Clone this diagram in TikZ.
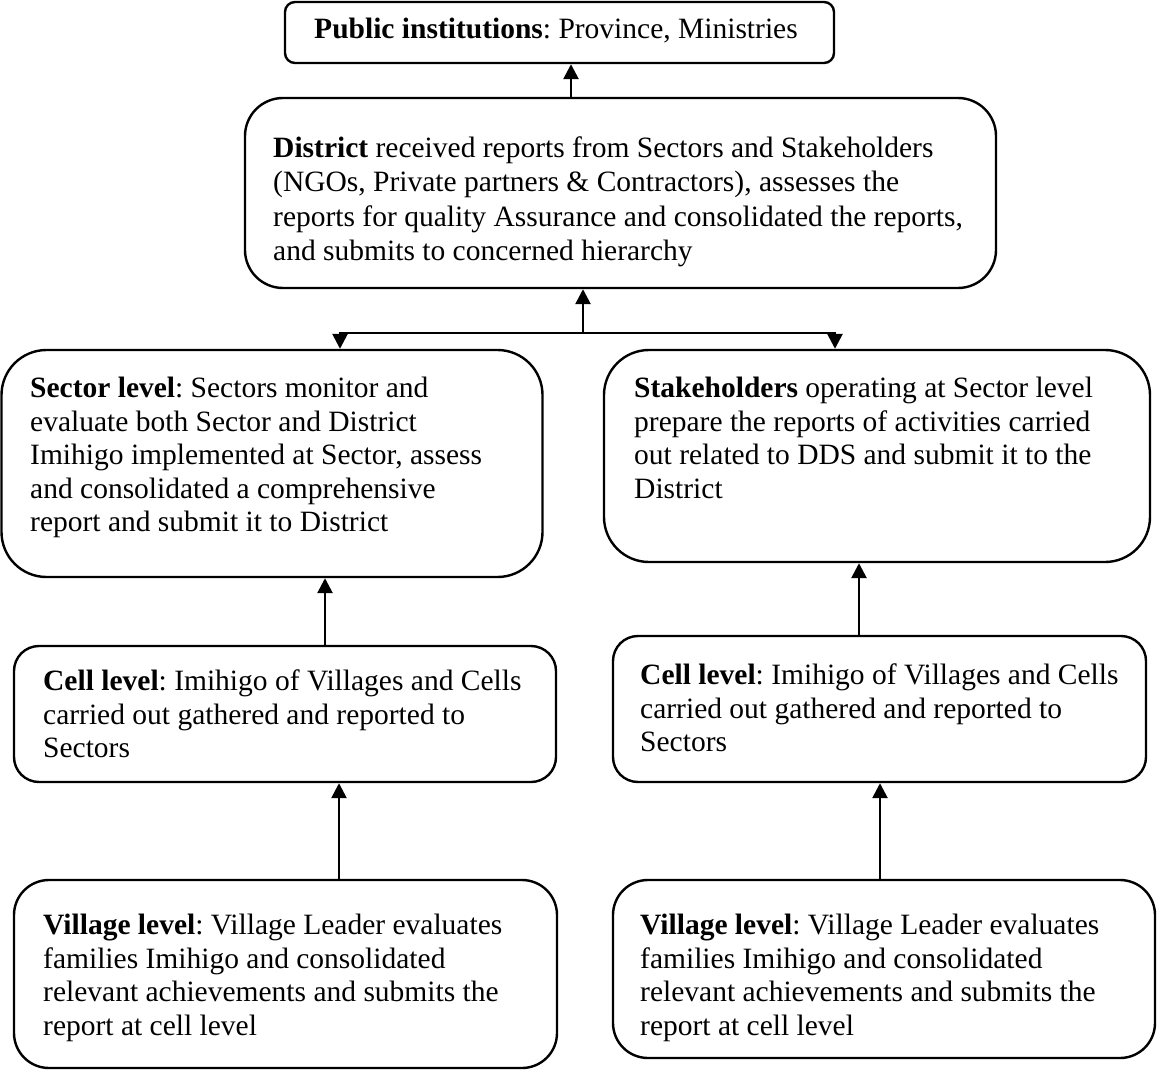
\documentclass[tikz,border=0pt]{standalone}
\usepackage{fontspec}
\setmainfont{Liberation Serif}
\usetikzlibrary{arrows.meta}
\frenchspacing
\begin{document}
\begin{tikzpicture}[x=1pt,y=-1pt,
  box/.style={draw=black,line width=2.4pt,inner sep=0pt},
  txt/.style={anchor=north west,inner sep=0pt,align=left,font=\fontsize{29.5}{33.5}\selectfont},
  arr/.style={line width=2.6pt,-{Triangle[width=15pt,length=15pt]}}]
\useasboundingbox (0,0) rectangle (1157,1070);
% boxes
\node[box,rounded corners=10pt,minimum width=549pt,minimum height=61pt] (public) at (559.5,32.5) {};
\node[box,rounded corners=38pt,minimum width=751pt,minimum height=190pt] (district) at (620.5,193) {};
\node[box,rounded corners=45pt,minimum width=541pt,minimum height=227pt] (sector) at (272,463.5) {};
\node[box,rounded corners=45pt,minimum width=546pt,minimum height=212pt] (stake) at (877,456) {};
\node[box,rounded corners=25pt,minimum width=542pt,minimum height=136pt] (celll) at (285,714) {};
\node[box,rounded corners=25pt,minimum width=533pt,minimum height=146pt] (cellr) at (879.5,709) {};
\node[box,rounded corners=35pt,minimum width=543pt,minimum height=188pt] (vill) at (285.5,974) {};
\node[box,rounded corners=35pt,minimum width=542pt,minimum height=178pt] (vilr) at (884,969) {};
% texts
\node[font=\fontsize{29.5}{33.5}\selectfont,inner sep=0pt] (publict) at (556,31) {\textbf{Public institutions}: Province, Ministries};
\node[txt,font=\fontsize{29.5}{34.5}\selectfont] (districtt) at (273,133) {\strut\textbf{District} received reports from Sectors and Stakeholders\\(NGOs, Private partners \& Contractors), assesses the\\reports for quality Assurance and consolidated the reports,\\and submits to concerned hierarchy};
\node[txt] (sectort) at (30,374) {\strut\textbf{Sector level}: Sectors monitor and\\evaluate both Sector and District\\Imihigo implemented at Sector, assess\\and consolidated a comprehensive\\report and submit it to District};
\node[txt] (staket) at (634,374) {\strut\textbf{Stakeholders} operating at Sector level\\prepare the reports of activities carried\\out related to DDS and submit it to the\\District};
\node[txt] (celllt) at (43,667) {\strut\textbf{Cell level}: Imihigo of Villages and Cells\\carried out gathered and reported to\\Sectors};
\node[txt] (cellrt) at (640,661) {\strut\textbf{Cell level}: Imihigo of Villages and Cells\\carried out gathered and reported to\\Sectors};
\node[txt] (villt) at (43,911) {\strut\textbf{Village level}: Village Leader evaluates\\families Imihigo and consolidated\\relevant achievements and submits the\\report at cell level};
\node[txt] (vilrt) at (640,911) {\strut\textbf{Village level}: Village Leader evaluates\\families Imihigo and consolidated\\relevant achievements and submits the\\report at cell level};
% connector coordinates
\coordinate (a1) at (571,0);
\coordinate (jc) at (583,333);
\coordinate (jl) at (340,333);
\coordinate (jr) at (835,333);
\coordinate (c1) at (325,0);
\coordinate (c2) at (859,0);
\coordinate (v1) at (339,0);
\coordinate (v2) at (880,0);
% connectors
\draw[arr] (district.north -| a1) -- (public.south -| a1);
\draw[arr] (jc) -- (district.south -| jc);
\draw[arr] (jc) -- (jl) -- (sector.north -| jl);
\draw[arr] (jc) -- (jr) -- (stake.north -| jr);
\draw[arr] (celll.north -| c1) -- (sector.south -| c1);
\draw[arr] (cellr.north -| c2) -- (stake.south -| c2);
\draw[arr] (vill.north -| v1) -- (celll.south -| v1);
\draw[arr] (vilr.north -| v2) -- (cellr.south -| v2);
\end{tikzpicture}
\end{document}
